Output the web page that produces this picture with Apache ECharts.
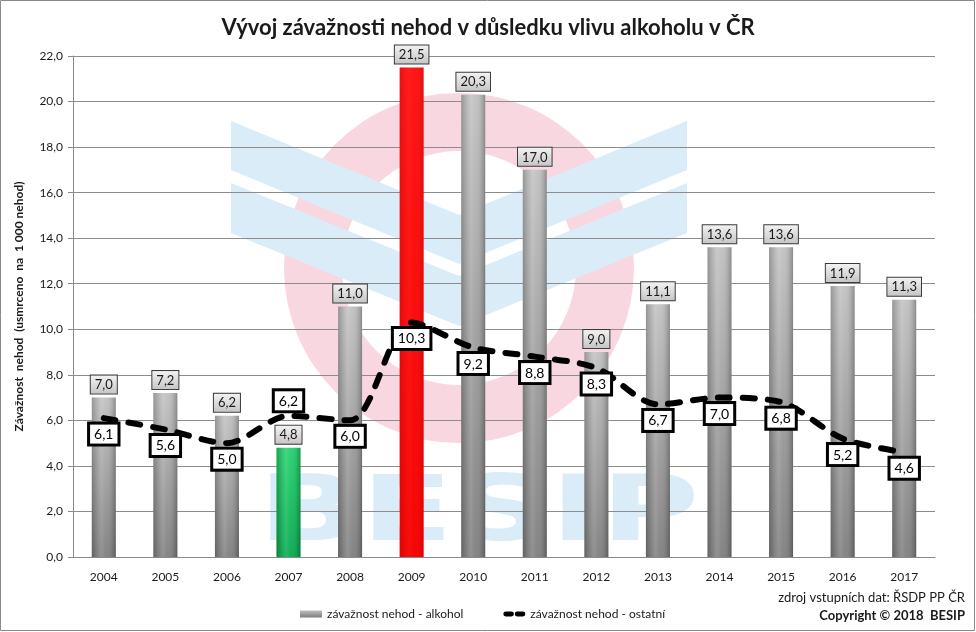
<!DOCTYPE html>
<html>
<head>
<meta charset="utf-8">
<script src="https://cdn.jsdelivr.net/npm/echarts@6/dist/echarts.min.js"></script>
<style>
html,body{margin:0;padding:0;background:#fff;}
#c{width:976px;height:632px;}
</style>
</head>
<body>
<div id="c"></div>
<script>
const years = ['2004','2005','2006','2007','2008','2009','2010','2011','2012','2013','2014','2015','2016','2017'];
const alcohol = [7.0, 7.2, 6.2, 4.8, 11.0, 21.5, 20.3, 17.0, 9.0, 11.1, 13.6, 13.6, 11.9, 11.3];
const other = [6.1, 5.6, 5.0, 6.2, 6.0, 10.3, 9.2, 8.8, 8.3, 6.7, 7.0, 6.8, 5.2, 4.6];
const yMin = 0, yMax = 22, yStep = 2;
const greenIdx = 3, redIdx = 5, lineLabelTopIdx = 3;

const FONT = 'Lato, "Open Sans", sans-serif';
const fmt = v => (typeof v === 'object' ? v.value : v).toFixed(1).replace('.', ',');

function vgrad(top, bottom) {
  return {type:'linear', x:0, y:0, x2:0, y2:1, colorStops:[{offset:0,color:top},{offset:1,color:bottom}]};
}
const grayGrad = vgrad('#c0c0c0', '#7c7c7c');
const greenGrad = vgrad('#1fd16a', '#00a84a');
const redGrad = vgrad('#ff1010', '#f60000');

const barData = alcohol.map((v, i) => ({
  value: v,
  itemStyle: {color: i === greenIdx ? greenGrad : (i === redIdx ? redGrad : grayGrad)}
}));
const overlayData = alcohol.map((v, i) => ({value: v, itemStyle: {opacity: i === redIdx ? 0.35 : 1}}));
const lineData = other.map((v, i) => i === lineLabelTopIdx ? {value: v, label: {position: 'top', distance: 5}} : v);

const chart = echarts.init(document.getElementById('c'));
const cx = 459;
const wing = '#d9ecf8';
chart.setOption({
  backgroundColor: '#ffffff',
  animation: false,
  textStyle: {fontFamily: FONT},
  title: {
    text: 'Vývoj závažnosti nehod v důsledku vlivu alkoholu v ČR',
    left: 'center', top: 12,
    textStyle: {fontFamily: FONT, fontSize: 22, fontWeight: 'bold', color: '#1a1a1a'}
  },
  graphic: [
    {type: 'rect', z: -5, silent: true, shape: {x: 0.5, y: 0.5, width: 974, height: 630}, style: {fill: 'none', stroke: '#8a8a8a', lineWidth: 1}},
    {type: 'ring', z: -4, silent: true, shape: {cx: cx, cy: 268, r: 175, r0: 117}, style: {fill: '#f9d7e1'}},
    {type: 'polygon', z: -3, silent: true, shape: {points: [[231,121],[cx,215],[cx,264],[231,170]]}, style: {fill: wing}},
    {type: 'polygon', z: -3, silent: true, shape: {points: [[231,183],[cx,276],[cx,326],[231,233]]}, style: {fill: wing}},
    {type: 'polygon', z: -3, silent: true, shape: {points: [[2*cx-231,121],[cx,215],[cx,264],[2*cx-231,170]]}, style: {fill: wing}},
    {type: 'polygon', z: -3, silent: true, shape: {points: [[2*cx-231,183],[cx,276],[cx,326],[2*cx-231,233]]}, style: {fill: wing}},
    {type: 'text', z: -3, silent: true, x: 258, y: 517, scaleX: 1.5, scaleY: 1,
      style: {text: 'BESIP', fill: wing, font: 'bold 90px "DejaVu Sans", sans-serif', align: 'left', verticalAlign: 'middle'}},
    {type: 'text', right: 11, top: 591, style: {text: 'zdroj vstupních dat: ŘSDP PP ČR', fill: '#1a1a1a', font: '13px ' + FONT, align: 'right'}},
    {type: 'text', right: 11, top: 609, style: {text: 'Copyright © 2018  BESIP', fill: '#1a1a1a', font: 'bold 13px ' + FONT, align: 'right'}}
  ],
  legend: {
    left: 295, top: 603,
    itemWidth: 22, itemHeight: 7, itemGap: 40,
    textStyle: {fontFamily: FONT, fontSize: 12, color: '#1a1a1a'},
    data: [
      {name: 'závažnost nehod - alkohol', icon: 'rect'},
      {name: 'závažnost nehod - ostatní', icon: 'path://M3,0 H10 A3,3 0 0 1 10,6 H3 A3,3 0 0 1 3,0 Z M17,0 H24 A3,3 0 0 1 24,6 H17 A3,3 0 0 1 17,0 Z', itemStyle: {color: '#000', opacity: 1}}
    ]
  },
  grid: {left: 73, right: 41, top: 56, bottom: 75, containLabel: false},
  xAxis: {
    type: 'category', data: years,
    axisLine: {lineStyle: {color: '#8a8a8a', width: 1}},
    axisTick: {show: false},
    axisLabel: {fontFamily: FONT, fontSize: 12, color: '#1a1a1a', margin: 14}
  },
  yAxis: {
    type: 'value', min: yMin, max: yMax, interval: yStep,
    name: 'Závažnost  nehod  (usmrceno  na  1 000 nehod)',
    nameLocation: 'middle', nameGap: 48, nameRotate: 90,
    nameTextStyle: {fontFamily: FONT, fontSize: 12, fontWeight: 'bold', color: '#1a1a1a'},
    axisLine: {show: true, lineStyle: {color: '#8a8a8a'}},
    axisTick: {show: true, length: 5, lineStyle: {color: '#8a8a8a'}},
    axisLabel: {fontFamily: FONT, fontSize: 12, color: '#1a1a1a', margin: 10, formatter: v => v.toFixed(1).replace('.', ',')},
    splitLine: {lineStyle: {color: '#8c8c8c', width: 1}}
  },
  series: [
    {
      name: 'závažnost nehod - alkohol',
      type: 'bar', barWidth: 24, z: 2,
      itemStyle: {color: grayGrad},
      data: barData,
      label: {
        show: true, position: 'top', distance: 4,
        formatter: p => fmt(p.value),
        fontFamily: FONT, fontSize: 13, color: '#1a1a1a',
        backgroundColor: {type:'linear', x:0, y:0, x2:0, y2:1, colorStops:[{offset:0,color:'#f4f4f4'},{offset:1,color:'#c4c4c4'}]},
        borderColor: '#3a3a3a', borderWidth: 1, padding: [3, 4, 2, 4]
      }
    },
    {
      name: 'overlay',
      type: 'bar', barWidth: 24, barGap: '-100%', z: 3, silent: true,
      data: overlayData,
      itemStyle: {color: {type:'linear', x:0, y:0, x2:1, y2:0, colorStops:[
        {offset:0, color:'rgba(0,0,0,0.22)'},
        {offset:0.4, color:'rgba(255,255,255,0.16)'},
        {offset:0.6, color:'rgba(255,255,255,0.06)'},
        {offset:1, color:'rgba(0,0,0,0.28)'}]}},
      label: {show: false},
      tooltip: {show: false}
    },
    {
      name: 'závažnost nehod - ostatní',
      type: 'line', z: 5, smooth: 0.3,
      symbol: 'circle', symbolSize: 1, showSymbol: true,
      lineStyle: {color: '#000', width: 6, type: [12, 13], cap: 'round'},
      itemStyle: {color: 'rgba(0,0,0,0)', borderWidth: 0},
      data: lineData,
      labelLayout: {hideOverlap: false},
      label: {
        show: true, position: 'bottom', distance: 6,
        formatter: p => fmt(p.value),
        fontFamily: FONT, fontSize: 14, color: '#000',
        backgroundColor: '#fff', borderColor: '#000', borderWidth: 3, padding: [3, 4, 2, 4]
      }
    }
  ]
});
</script>
</body>
</html>
